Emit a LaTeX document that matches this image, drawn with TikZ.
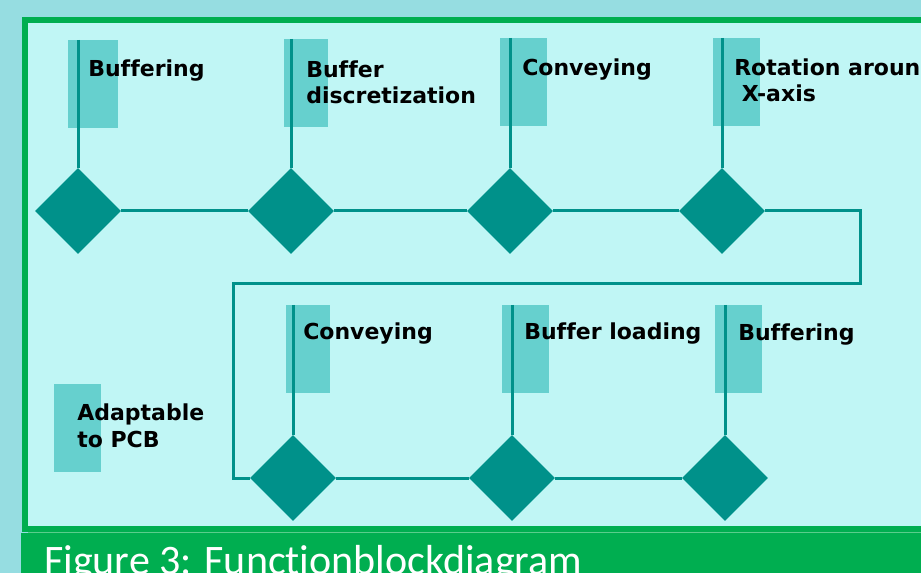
\documentclass[tikz,border=0pt]{standalone}
\usepackage{fontspec}
\setmainfont{DejaVu Sans}[Ligatures=CommonOff]
\newfontfamily\capfont{Carlito}[Ligatures=CommonOff]
\usepackage{tikz}
\usetikzlibrary{positioning}
\usetikzlibrary{shapes.geometric}

\definecolor{pagebg}{RGB}{150,221,225}
\definecolor{panel}{RGB}{192,246,245}
\definecolor{framegreen}{RGB}{0,174,80}
\definecolor{seam}{RGB}{90,205,140}
\definecolor{blockteal}{RGB}{0,145,138}
\definecolor{tagfill}{RGB}{102,208,206}

\begin{document}
\begin{tikzpicture}[
				x=0.75pt, y=-0.75pt,
				block/.style={diamond, fill=blockteal, inner sep=0pt, minimum width=64.5pt, minimum height=64.5pt, shape aspect=1},
				tag/.style={rectangle, fill=tagfill, inner sep=0pt, anchor=north west, minimum width=35.25pt, minimum height=66pt},
				lbl/.style={anchor=base west, inner sep=0pt, align=left, font=\bfseries\fontsize{16.5}{20}\selectfont},
				link/.style={draw=blockteal, line width=2.25pt}
			]

			\clip (0,0) rectangle (921,573);
			\fill[pagebg] (0,0) rectangle (921,573);

			% Panel with green frame and caption bar
			\draw[framegreen, line width=4.5pt, fill=panel] (25,20) rectangle (960,529);
			\fill[framegreen] (21,533) rectangle (921,573);
			\draw[seam, line width=0.75pt] (28,532.5) -- (921,532.5);
			\node[anchor=base west, inner sep=0pt, text=white, font=\capfont\fontsize{31.5}{36}\selectfont] (caption) at (44,574) {Figure 3: Functionblockdiagram};

			% Label tags
			\node[tag, minimum width=37.5pt] (t1) at (68,40) {};
			\node[tag, minimum width=33pt] (t2) at (284,39) {};
			\node[tag] (t3) at (500,38) {};
			\node[tag] (t4) at (713,38) {};
			\node[tag, minimum width=33pt] (t5) at (286,305) {};
			\node[tag] (t6) at (502,305) {};
			\node[tag] (t7) at (715,305) {};
			\node[tag] (t8) at (54,384) {};

			% Function blocks
			\node[block] (d1) at (78,211) {};
			\node[block] (d2) at (291,211) {};
			\node[block] (d3) at (510,211) {};
			\node[block] (d4) at (722,211) {};
			\node[block] (d5) at (293,478) {};
			\node[block] (d6) at (512,478) {};
			\node[block] (d7) at (725,478) {};

			% Stems from tags to blocks
			\foreach \t/\d in {t1/d1, t2/d2, t3/d3, t4/d4, t5/d5, t6/d6, t7/d7}
				\draw[link] (\d.north |- \t.north) -- (\d.north);

			% Flow between blocks
			\coordinate (turnA) at (860,284);
			\coordinate (turnB) at (233,284);
			\draw[link] (d1) -- (d2);
			\draw[link] (d2) -- (d3);
			\draw[link] (d3) -- (d4);
			\draw[link] (d4.east) -| (turnA) -- (turnB) |- (d5.west);
			\draw[link] (d5) -- (d6);
			\draw[link] (d6) -- (d7);

			% Labels (multi-line ones sit on their last baseline)
			\node[lbl] (l1) at (88,77) {Buffering};
			\node[lbl] (l2) at (306,104) {Buffer\\discretization};
			\node[lbl] (l3) at (522,76) {Conveying};
			\node[lbl] (l4) at (734,102) {Rotation around\\~X-axis};
			\node[lbl] (l5) at (303,340) {Conveying};
			\node[lbl] (l6) at (524,340) {Buffer loading};
			\node[lbl] (l7) at (738,341) {Buffering};
			\node[lbl] (l8) at (77,447) {Adaptable\\to PCB};

		\end{tikzpicture}
\end{document}
